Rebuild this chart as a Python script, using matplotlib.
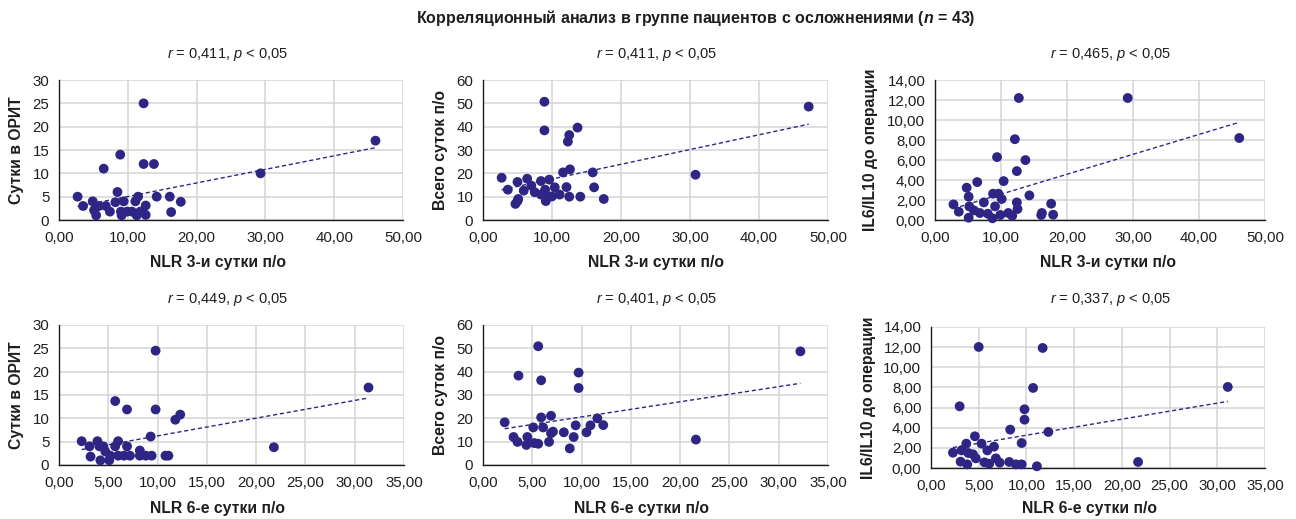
"""
Correlation scatter plots: NLR on post-op days 3 and 6 vs ICU stay,
total hospital stay and pre-op IL6/IL10 ratio.
"""

import matplotlib.pyplot as plt
import numpy as np
from matplotlib.ticker import FuncFormatter, MultipleLocator

plt.rcParams["font.family"] = ["Liberation Sans", "DejaVu Sans"]
plt.rcParams["mathtext.fontset"] = "custom"
plt.rcParams["mathtext.rm"] = "Liberation Sans"
plt.rcParams["mathtext.it"] = "Liberation Sans:italic"
plt.rcParams["mathtext.bf"] = "Liberation Sans:bold"
plt.rcParams["mathtext.bfit"] = "Liberation Sans:italic:bold"

POINT_COLOR = "#2e2585"
GRID_COLOR = "#d4d4d4"
TEXT_COLOR = "#1e1e1e"

TITLE = r"Корреляционный анализ в группе пациентов с осложнениями ($\mathbfit{n}$ = 43)"

# NLR day 3 vs ICU days
nlr3_icu_x = [2.7, 3.5, 4.9, 5.1, 5.4, 5.8, 6.5, 6.8, 7.4, 8.2, 8.5, 8.9, 9.0, 9.4,
              9.1, 9.9, 10.6, 11.1, 11.5, 11.3, 11.8, 12.3, 12.3, 12.6, 12.6, 13.8,
              14.2, 16.1, 16.3, 17.7, 29.3, 46.0]
nlr3_icu_y = [5.0, 3.0, 4.0, 2.1, 1.0, 3.0, 11.0, 3.0, 1.8, 3.8, 6.0, 14.0, 1.8, 4.0,
              1.0, 1.8, 1.8, 4.0, 5.0, 1.0, 1.8, 25.0, 12.0, 3.1, 1.1, 12.0,
              5.0, 5.0, 1.7, 3.9, 10.0, 17.0]

# NLR day 3 vs total days after surgery
nlr3_total_x = [2.7, 3.6, 4.7, 5.0, 5.1, 5.0, 5.9, 6.4, 7.0, 7.5, 8.4, 8.4, 8.9, 8.9,
                9.0, 9.1, 9.6, 9.6, 10.0, 10.4, 11.1, 11.6, 12.1, 12.3, 12.5, 12.5,
                12.6, 13.7, 14.1, 15.9, 16.1, 17.5, 30.8, 47.2]
nlr3_total_y = [18.1, 13.0, 6.9, 16.3, 9.0, 8.1, 12.6, 17.7, 14.7, 11.9, 16.7, 10.9,
                50.7, 38.4, 13.0, 8.1, 17.3, 10.1, 10.1, 14.0, 10.9, 20.4, 14.1, 33.6,
                36.4, 10.0, 21.7, 39.6, 10.0, 20.4, 14.0, 9.0, 19.4, 48.6]

# NLR day 3 vs IL6/IL10 before surgery
nlr3_il_x = [2.8, 3.6, 4.8, 5.1, 5.1, 5.2, 5.9, 6.4, 6.8, 7.4, 8.0, 8.7, 8.8, 9.1,
             9.4, 9.6, 9.9, 10.1, 10.4, 11.1, 11.7, 12.1, 12.4, 12.4, 12.5, 12.7,
             13.7, 14.3, 16.1, 16.2, 17.6, 17.9, 29.2, 46.1]
nlr3_il_y = [1.56, 0.83, 3.23, 2.33, 0.23, 1.36, 0.96, 3.79, 0.70, 1.76, 0.63, 0.17,
             2.63, 1.36, 6.29, 2.63, 0.50, 2.10, 3.89, 0.70, 0.43, 8.08, 4.89, 1.76,
             1.10, 12.20, 5.99, 2.46, 0.50, 0.70, 1.63, 0.53, 12.20, 8.20]

# NLR day 6 vs ICU days
nlr6_icu_x = [2.3, 3.1, 3.2, 3.9, 4.1, 4.2, 4.5, 4.7, 5.1, 5.2, 5.7, 5.7, 6.0, 6.0,
              6.6, 6.9, 6.9, 7.2, 8.2, 8.2, 8.8, 9.3, 9.4, 9.8, 9.8, 10.8, 11.1,
              11.8, 12.3, 21.8, 31.4]
nlr6_icu_y = [5.1, 4.0, 1.8, 5.1, 4.0, 1.0, 4.0, 2.9, 1.0, 2.0, 13.7, 4.0, 5.1, 2.0,
              2.0, 11.9, 4.0, 2.0, 3.1, 2.0, 2.0, 6.1, 2.0, 24.5, 11.9, 2.0, 2.0,
              9.7, 10.8, 3.8, 16.6]

# NLR day 6 vs total days after surgery
nlr6_total_x = [2.2, 3.1, 3.5, 3.6, 4.4, 4.5, 5.1, 5.2, 5.6, 5.6, 5.9, 5.9, 6.1, 6.7,
                6.9, 6.9, 7.1, 8.2, 8.8, 9.2, 9.4, 9.7, 9.7, 10.5, 10.9, 11.6, 12.2,
                21.6, 32.2]
nlr6_total_y = [18.3, 12.0, 9.9, 38.3, 8.6, 12.0, 16.1, 9.4, 50.9, 9.1, 20.4, 36.3,
                16.1, 9.9, 13.6, 21.1, 14.3, 14.0, 7.1, 12.0, 17.0, 39.6, 33.0, 14.0,
                17.0, 20.0, 17.1, 10.9, 48.7]

# NLR day 6 vs IL6/IL10 before surgery
nlr6_il_x = [2.3, 3.0, 3.1, 3.2, 3.7, 3.8, 3.9, 4.4, 4.6, 4.7, 5.0, 5.3, 5.6, 5.9,
             6.1, 6.6, 6.8, 7.2, 8.2, 8.3, 8.9, 9.5, 9.5, 9.8, 9.8, 10.7, 11.1,
             11.7, 12.3, 21.7, 31.1]
nlr6_il_y = [1.52, 6.13, 0.63, 1.75, 2.42, 0.36, 1.49, 1.36, 3.15, 0.96, 12.02, 2.42,
             0.56, 1.75, 0.43, 2.12, 0.96, 0.53, 0.60, 3.81, 0.36, 0.36, 2.48, 5.83,
             4.80, 7.95, 0.17, 11.92, 3.58, 0.60, 8.05]

stat_labels = [
    r"$\it{r}$ = 0,411, $\it{p}$ < 0,05",
    r"$\it{r}$ = 0,411, $\it{p}$ < 0,05",
    r"$\it{r}$ = 0,465, $\it{p}$ < 0,05",
    r"$\it{r}$ = 0,449, $\it{p}$ < 0,05",
    r"$\it{r}$ = 0,401, $\it{p}$ < 0,05",
    r"$\it{r}$ = 0,337, $\it{p}$ < 0,05",
]

x_labels = ["NLR 3-и сутки п/о"] * 3 + ["NLR 6-е сутки п/о"] * 3
y_labels = ["Сутки в ОРИТ", "Всего суток п/о", "IL6/IL10 до операции"] * 2

panels = [
    (nlr3_icu_x, nlr3_icu_y),
    (nlr3_total_x, nlr3_total_y),
    (nlr3_il_x, nlr3_il_y),
    (nlr6_icu_x, nlr6_icu_y),
    (nlr6_total_x, nlr6_total_y),
    (nlr6_il_x, nlr6_il_y),
]

# plot area in pixels: left, top, right, bottom
boxes = [
    (59, 80, 403, 220),
    (483, 80, 828, 220),
    (935, 80, 1265, 220),
    (59, 325, 404, 465),
    (483, 325, 828, 465),
    (931, 327, 1265, 468),
]
stat_pos = [(227, 54), (656, 54), (1110, 54), (227, 300), (656, 300), (1110, 300)]
xlabel_pos = [(218, 263), (656, 263), (1108, 263), (218, 509), (642, 509), (1090, 509)]
ylabel_x = [17, 440, 870, 17, 440, 868]

W, H = 1296, 519

comma2 = FuncFormatter(lambda v, _: f"{v:.2f}".replace(".", ","))
integer = FuncFormatter(lambda v, _: f"{v:.0f}")


def style_axes(ax, idx):
    top_row = idx < 3
    ax.set_xlim(0, 50 if top_row else 35)
    ax.xaxis.set_major_locator(MultipleLocator(10 if top_row else 5))
    ax.xaxis.set_major_formatter(comma2)

    kind = idx % 3
    if kind == 0:
        ax.set_ylim(0, 30)
        ax.yaxis.set_major_locator(MultipleLocator(5))
        ax.yaxis.set_major_formatter(integer)
    elif kind == 1:
        ax.set_ylim(0, 60)
        ax.yaxis.set_major_locator(MultipleLocator(10))
        ax.yaxis.set_major_formatter(integer)
    else:
        ax.set_ylim(0, 14)
        ax.yaxis.set_major_locator(MultipleLocator(2))
        ax.yaxis.set_major_formatter(comma2)

    ax.grid(True, color=GRID_COLOR, linewidth=1.1)
    ax.set_axisbelow(True)
    for side in ("top", "right"):
        ax.spines[side].set_visible(False)
    for side in ("left", "bottom"):
        ax.spines[side].set_color(TEXT_COLOR)
        ax.spines[side].set_linewidth(1.0)
        ax.spines[side].set_zorder(3)
    ax.tick_params(length=0, labelsize=10.8, colors=TEXT_COLOR)
    ax.tick_params(axis="x", pad=8)
    ax.tick_params(axis="y", pad=7)


def main():
    fig = plt.figure(figsize=(W / 100, H / 100), dpi=100)

    fig.text(696 / W, 1 - 18 / H, TITLE, ha="center", va="center",
             fontsize=11.5, fontweight="bold", color=TEXT_COLOR)

    for idx, ((xs, ys), box) in enumerate(zip(panels, boxes)):
        left, top, right, bottom = box
        ax = fig.add_axes([left / W, 1 - bottom / H, (right - left) / W, (bottom - top) / H])
        style_axes(ax, idx)

        ax.scatter(xs, ys, s=50, color=POINT_COLOR, edgecolors="none", zorder=4, clip_on=False)

        # linear trend line over the data range
        slope, intercept = np.polyfit(xs, ys, 1)
        tx = np.array([min(xs), max(xs)])
        ax.plot(tx, slope * tx + intercept, color=POINT_COLOR, linewidth=1.0,
                linestyle=(0, (3, 2)), zorder=3)

        sx, sy = stat_pos[idx]
        fig.text(sx / W, 1 - sy / H, stat_labels[idx], ha="center", va="center",
                 fontsize=10.5, color=TEXT_COLOR)

        lx, ly = xlabel_pos[idx]
        fig.text(lx / W, 1 - ly / H, x_labels[idx], ha="center", va="center",
                 fontsize=11.3, fontweight="bold", color=TEXT_COLOR)

        fig.text(ylabel_x[idx] / W, 1 - ((top + bottom) / 2) / H, y_labels[idx],
                 ha="center", va="center", rotation=90, fontsize=11.3,
                 fontweight="bold", color=TEXT_COLOR)

    fig.savefig("out.png", dpi=100, facecolor="white")
    plt.close(fig)


if __name__ == "__main__":
    main()
